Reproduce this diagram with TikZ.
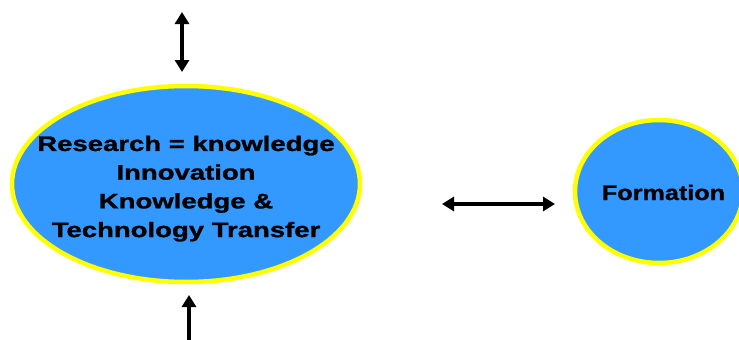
\documentclass[tikz,border=0pt]{standalone}
\usepackage{fontspec}
\setmainfont{Liberation Sans}
\newfontface\heavy{Liberation Sans Bold}[FakeBold=1]
\usetikzlibrary{shapes.geometric,arrows.meta}
\definecolor{ellblue}{RGB}{51,153,255}
\definecolor{ellyellow}{RGB}{255,255,0}
\begin{document}
\begin{tikzpicture}[x=1pt,y=-1pt,
  bubble/.style={ellipse,draw=ellyellow,line width=4.5pt,fill=ellblue,inner sep=0pt},
  dblarrow/.style={line width=3.5pt,{Triangle[length=12pt,width=14pt]}-{Triangle[length=12pt,width=14pt]}}]
\useasboundingbox (0,0) rectangle (739,340);
\node[bubble,minimum width=348pt,minimum height=196pt] (research) at (186,184) {};
\node[bubble,minimum width=168pt,minimum height=143pt] (formation) at (659,191.5) {};
\node[inner sep=0pt,anchor=center] (rtext) at (186,188.3) {\scalebox{1.31}[1]{\fontsize{21}{28.7}\heavy
  \begin{tabular}{@{}c@{}}Research = knowledge\\ Innovation\\ Knowledge \&\\ Technology Transfer\end{tabular}}};
\node[inner sep=0pt,anchor=base] (ftext) at (663.5,200) {\scalebox{1.2}[1]{\fontsize{21}{26}\heavy Formation}};
\coordinate (t1) at (182,12);
\coordinate (t2) at (182,72);
\coordinate (b1) at (189,295);
\coordinate (b2) at (189,365);
\coordinate (h1) at (442,204);
\coordinate (h2) at (555,204);
\draw[dblarrow] (t1) -- (t2);
\draw[dblarrow] (b1) -- (b2);
\draw[dblarrow] (h1) -- (h2);
\end{tikzpicture}
\end{document}
